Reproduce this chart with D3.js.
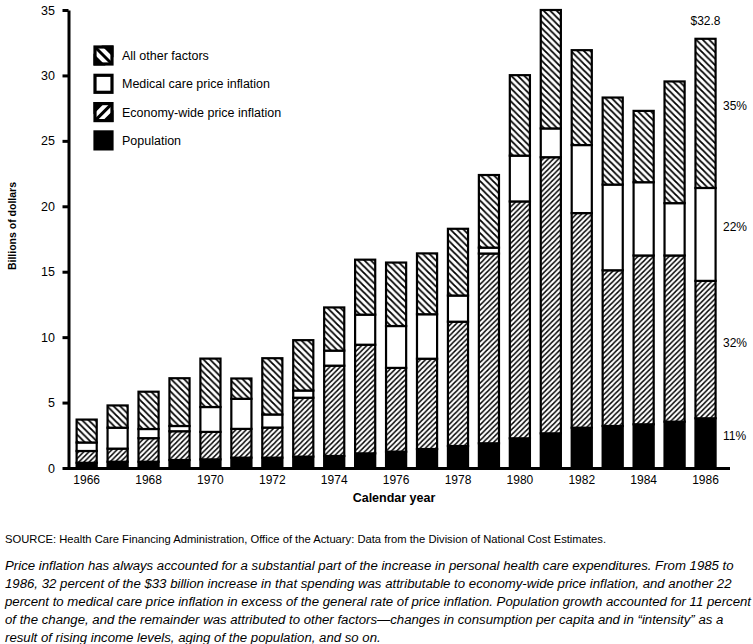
<!DOCTYPE html>
<html>
<head>
<meta charset="utf-8">
<script src="https://cdn.jsdelivr.net/npm/d3@7/dist/d3.min.js"></script>
<style>
  body { margin: 0; background: #fff; }
  svg { display: block; font-family: 'Liberation Sans', Arial, Helvetica, sans-serif; }
</style>
</head>
<body>
<div id="chart"></div>
<script>
// 要因別の増加額 (10億ドル)
var years = [1966, 1967, 1968, 1969, 1970, 1971, 1972, 1973, 1974, 1975, 1976,
  1977, 1978, 1979, 1980, 1981, 1982, 1983, 1984, 1985, 1986]
var population = [0.4, 0.48, 0.48, 0.61, 0.66, 0.79, 0.79, 0.87, 0.92, 1.12, 1.25,
  1.45, 1.68, 1.89, 2.27, 2.65, 3.08, 3.21, 3.34, 3.54, 3.8]
var economy = [0.9, 1.0, 1.8, 2.2, 2.1, 2.2, 2.3, 4.5, 6.9, 8.3, 6.4,
  6.9, 9.5, 14.5, 18.1, 21.1, 16.4, 11.9, 12.9, 12.7, 10.5]
var medical = [0.65, 1.6, 0.7, 0.4, 1.9, 2.3, 1.0, 0.55, 1.15, 2.3, 3.2,
  3.4, 2.0, 0.45, 3.5, 2.2, 5.2, 6.55, 5.6, 4.0, 7.1]
var other = [1.75, 1.7, 2.85, 3.65, 3.7, 1.55, 4.3, 3.85, 3.3, 4.2, 4.85,
  4.65, 5.1, 5.55, 6.15, 9.05, 7.25, 6.65, 5.45, 9.3, 11.4]

var yTicks = [0, 5, 10, 15, 20, 25, 30, 35]
var xTickYears = [1966, 1968, 1970, 1972, 1974, 1976, 1978, 1980, 1982, 1984, 1986]
var keys = ['population', 'economy', 'medical', 'other']
var legendLabels = ['All other factors', 'Medical care price inflation', 'Economy-wide price inflation', 'Population']
var legendKeys = ['other', 'medical', 'economy', 'population']
var shareLabels = ['11%', '32%', '22%', '35%']
var totalLabel = '$32.8'

var sourceText = 'SOURCE: Health Care Financing Administration, Office of the Actuary: Data from the Division of National Cost Estimates.'
var noteLines = [
  'Price inflation has always accounted for a substantial part of the increase in personal health care expenditures. From 1985 to',
  '1986, 32 percent of the $33 billion increase in that spending was attributable to economy-wide price inflation, and another 22',
  'percent to medical care price inflation in excess of the general rate of price inflation. Population growth accounted for 11 percent',
  'of the change, and the remainder was attributed to other factors\u2014changes in consumption per capita and in \u201cintensity\u201d as a',
  'result of rising income levels, aging of the population, and so on.'
]

var width = 753, height = 644

var rows = years.map(function(yr, i) {
  return { year: yr, population: population[i], economy: economy[i], medical: medical[i], other: other[i] }
})

var svg = d3.select('#chart').append('svg')
  .attr('width', width)
  .attr('height', height)

svg.append('rect').attr('width', width).attr('height', height).attr('fill', '#fff')

var x = d3.scaleBand()
  .domain(years)
  .range([71.2, 721])
  .paddingInner(0.35)
  .paddingOuter(0.175)

var y = d3.scaleLinear()
  .domain([0, 35])
  .range([468, 10])

// ハッチパターン
function hatch(id, size, dir, sw) {
  var p = defs.append('pattern')
    .attr('id', id)
    .attr('patternUnits', 'userSpaceOnUse')
    .attr('width', size).attr('height', size)
  p.append('rect').attr('width', size).attr('height', size).attr('fill', '#fff')
  var d = dir === 'back'
    ? 'M-1,-1 L' + (size + 1) + ',' + (size + 1) + ' M-1,' + (size - 1) + ' L1,' + (size + 1) + ' M' + (size - 1) + ',-1 L' + (size + 1) + ',1'
    : 'M-1,' + (size + 1) + ' L' + (size + 1) + ',-1 M-1,1 L1,-1 M' + (size - 1) + ',' + (size + 1) + ' L' + (size + 1) + ',' + (size - 1)
  p.append('path').attr('d', d).attr('stroke', '#000').attr('stroke-width', sw)
}
var defs = svg.append('defs')
hatch('hatch-other', 6.5, 'back', 1.8)
hatch('hatch-economy', 5.2, 'fwd', 1.4)

var fills = {
  population: '#000',
  economy: 'url(#hatch-economy)',
  medical: '#fff',
  other: 'url(#hatch-other)'
}

var series = d3.stack().keys(keys)(rows)

// bars
var bars = svg.append('g').attr('class', 'bars')
series.forEach(function(s) {
  bars.selectAll('.seg-' + s.key)
    .data(s)
    .enter()
    .append('rect')
    .attr('class', 'seg-' + s.key)
    .attr('x', function(d) { return x(d.data.year) })
    .attr('width', x.bandwidth())
    .attr('y', function(d) { return y(d[1]) })
    .attr('height', function(d) { return y(d[0]) - y(d[1]) })
    .attr('fill', fills[s.key])
    .attr('stroke', '#000')
    .attr('stroke-width', 2.2)
})

// outer border
var top = series[series.length - 1]
bars.selectAll('.outline')
  .data(top)
  .enter()
  .append('rect')
  .attr('class', 'outline')
  .attr('x', function(d) { return x(d.data.year) })
  .attr('width', x.bandwidth())
  .attr('y', function(d) { return y(d[1]) })
  .attr('height', function(d) { return y(0) - y(d[1]) })
  .attr('fill', 'none')
  .attr('stroke', '#000')
  .attr('stroke-width', 3.6)

// y axis
var yAxis = svg.append('g')
  .attr('transform', 'translate(68.5,0)')
  .call(d3.axisLeft(y).tickValues(yTicks).tickSize(6).tickSizeOuter(0).tickPadding(7.5))
yAxis.select('.domain').attr('stroke-width', 3)
yAxis.selectAll('.tick line').attr('stroke-width', 3)
yAxis.selectAll('.tick text')
  .attr('font-size', 12.5)
  .attr('font-family', "'Liberation Sans', Arial, sans-serif")

// x axis
svg.append('line')
  .attr('x1', 67).attr('x2', 730)
  .attr('y1', y(0) + 0.5).attr('y2', y(0) + 0.5)
  .attr('stroke', '#000').attr('stroke-width', 3)

var xAxis = svg.append('g')
  .attr('transform', 'translate(0,' + (y(0) + 0.5) + ')')
  .call(d3.axisBottom(x).tickValues(xTickYears).tickSize(0).tickPadding(7))
xAxis.select('.domain').remove()
xAxis.selectAll('.tick text')
  .attr('font-size', 12)
  .attr('font-family', "'Liberation Sans', Arial, sans-serif")

svg.append('text')
  .attr('x', 394).attr('y', 502)
  .attr('text-anchor', 'middle')
  .attr('font-size', 12.5)
  .attr('font-weight', 'bold')
  .text('Calendar year')

svg.append('text')
  .attr('transform', 'translate(16,226) rotate(-90)')
  .attr('text-anchor', 'middle')
  .attr('font-size', 10.5)
  .attr('font-weight', 'bold')
  .text('Billions of dollars')

// 1986 labels
var last = rows[rows.length - 1]
var lastX = x(last.year) + x.bandwidth() / 2
svg.append('text')
  .attr('x', lastX).attr('y', 25)
  .attr('text-anchor', 'middle')
  .attr('font-size', 12)
  .text(totalLabel)

svg.selectAll('.share')
  .data(series)
  .enter()
  .append('text')
  .attr('class', 'share')
  .attr('x', 723)
  .attr('y', function(s) {
    var d = s[s.length - 1]
    return y((d[0] + d[1]) / 2) - 3
  })
  .attr('font-size', 12)
  .text(function(s, i) { return shareLabels[i] })

// legend
var legend = svg.append('g').attr('class', 'legend')
var item = legend.selectAll('.item')
  .data(legendKeys)
  .enter()
  .append('g')
  .attr('class', 'item')
  .attr('transform', function(d, i) { return 'translate(95,' + (47 + i * 28.3) + ')' })

var s = 17
item.append('rect')
  .attr('width', s).attr('height', s)
  .attr('fill', function(d) { return d === 'population' ? '#000' : '#fff' })
item.filter(function(d) { return d === 'other' })
  .append('path')
  .attr('d', 'M' + (s - 7) + ',0 L' + s + ',0 L' + s + ',7 Z M0,' + (s - 7) + ' L0,' + s + ' L7,' + s + ' Z M0,0 L' + s + ',' + s)
  .attr('fill', '#000').attr('stroke', '#000').attr('stroke-width', 3)
item.filter(function(d) { return d === 'economy' })
  .append('path')
  .attr('d', 'M0,0 L7,0 L0,7 Z M' + s + ',' + s + ' L' + (s - 7) + ',' + s + ' L' + s + ',' + (s - 7) + ' Z M0,' + s + ' L' + s + ',0')
  .attr('fill', '#000').attr('stroke', '#000').attr('stroke-width', 3)
item.append('rect')
  .attr('width', s).attr('height', s)
  .attr('fill', 'none')
  .attr('stroke', '#000').attr('stroke-width', 3.2)
item.append('text')
  .attr('x', 27).attr('y', 13)
  .attr('font-size', 12.5)
  .text(function(d, i) { return legendLabels[i] })

// footnotes
svg.append('text')
  .attr('x', 5).attr('y', 543)
  .attr('font-size', 10.5)
  .attr('textLength', 601)
  .attr('lengthAdjust', 'spacingAndGlyphs')
  .text(sourceText)

var note = svg.append('g').attr('class', 'note')
var noteText = note.selectAll('text')
  .data(noteLines)
  .enter()
  .append('text')
  .attr('x', 5)
  .attr('y', function(d, i) { return 570 + i * 18.1 })
  .attr('font-size', 12)
  .attr('font-style', 'italic')
  .text(function(d) { return d })

// 3行目を基準に横幅を合わせる
var ref = noteText.nodes()[2].getComputedTextLength()
var k = 746 / ref
noteText.each(function() {
  var w = this.getComputedTextLength()
  d3.select(this).attr('textLength', w * k).attr('lengthAdjust', 'spacingAndGlyphs')
})
</script>
</body>
</html>
